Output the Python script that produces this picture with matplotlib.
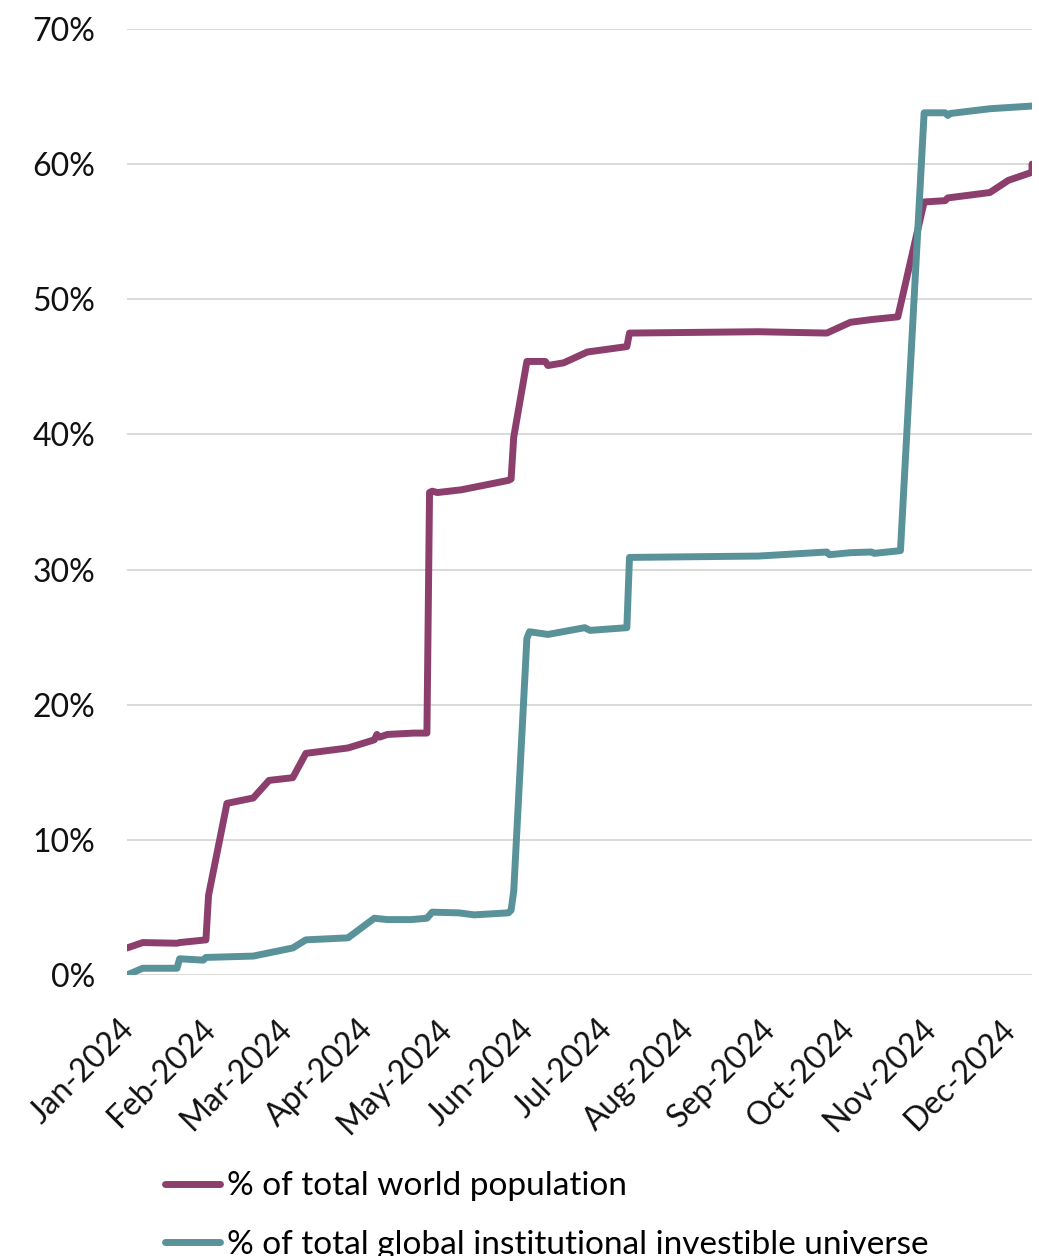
import numpy as np
import pandas as pd
import matplotlib
matplotlib.use("Agg")
import matplotlib.pyplot as plt
import matplotlib.dates as mdates
from matplotlib.ticker import PercentFormatter
from matplotlib.transforms import ScaledTranslation

plt.rcParams['font.family'] = ['Lato', 'DejaVu Sans']

# cumulative share, % of total world population
pop_dates = ['2024-01-01', '2024-01-07', '2024-01-20', '2024-01-21', '2024-01-31',
             '2024-02-01', '2024-02-08', '2024-02-18', '2024-02-24', '2024-03-04',
             '2024-03-09', '2024-03-25', '2024-04-04', '2024-04-05', '2024-04-06',
             '2024-04-09', '2024-04-19', '2024-04-24', '2024-04-25', '2024-04-26',
             '2024-04-28', '2024-05-07', '2024-05-25', '2024-05-26', '2024-05-27',
             '2024-06-01', '2024-06-08', '2024-06-09', '2024-06-15', '2024-06-24',
             '2024-07-09', '2024-07-10', '2024-08-28', '2024-09-23', '2024-10-02',
             '2024-10-10', '2024-10-20', '2024-10-30', '2024-11-07', '2024-11-08',
             '2024-11-24', '2024-12-01', '2024-12-10', '2024-12-10']
pop_share = [2.0, 2.4, 2.35, 2.4, 2.6,
             5.9, 12.7, 13.1, 14.4, 14.6,
             16.4, 16.8, 17.4, 17.8, 17.6,
             17.8, 17.9, 17.9, 35.7, 35.8,
             35.7, 35.9, 36.6, 36.7, 39.8,
             45.4, 45.4, 45.1, 45.3, 46.1,
             46.5, 47.5, 47.6, 47.5, 48.3,
             48.5, 48.7, 57.2, 57.3, 57.5,
             57.9, 58.8, 59.4, 60.0]

# cumulative share, % of total global institutional investible universe
inv_dates = ['2024-01-01', '2024-01-07', '2024-01-20', '2024-01-21', '2024-01-30',
             '2024-01-31', '2024-02-18', '2024-03-04', '2024-03-09', '2024-03-25',
             '2024-04-04', '2024-04-09', '2024-04-18', '2024-04-24', '2024-04-26',
             '2024-05-06', '2024-05-12', '2024-05-25', '2024-05-26', '2024-05-27',
             '2024-06-01', '2024-06-02', '2024-06-09', '2024-06-23', '2024-06-25',
             '2024-07-09', '2024-07-10', '2024-08-28', '2024-09-23', '2024-09-24',
             '2024-10-02', '2024-10-10', '2024-10-11', '2024-10-21', '2024-10-30',
             '2024-11-07', '2024-11-08', '2024-11-09', '2024-11-24', '2024-12-10']
inv_share = [0.0, 0.5, 0.5, 1.2, 1.1,
             1.3, 1.4, 2.0, 2.6, 2.75,
             4.2, 4.1, 4.1, 4.2, 4.65,
             4.6, 4.45, 4.6, 4.8, 6.2,
             24.9, 25.4, 25.2, 25.7, 25.5,
             25.7, 30.9, 31.0, 31.3, 31.1,
             31.25, 31.3, 31.2, 31.4, 63.8,
             63.8, 63.6, 63.75, 64.1, 64.3]

labels = ['% of total world population',
          '% of total global institutional investible universe']
colors = ['#8c3e6c', '#5a929a']

W, H = 1039, 1256
fig = plt.figure(figsize=(W / 100, H / 100), dpi=100)
ax = fig.add_axes([127 / W, 1 - 975 / H, (1032 - 127) / W, (975 - 29) / H])

for d, v, c, lab in [(pop_dates, pop_share, colors[0], labels[0]),
                     (inv_dates, inv_share, colors[1], labels[1])]:
    ax.plot(pd.to_datetime(d), v, color=c, lw=5.0, label=lab,
            solid_joinstyle='round', solid_capstyle='round')

ax.set_ylim(0, 70)
ax.set_yticks(np.arange(0, 71, 10))
ax.yaxis.set_major_formatter(PercentFormatter(decimals=0))
ax.set_xlim(pd.Timestamp('2024-01-01'), pd.Timestamp('2024-12-10'))
ax.xaxis.set_major_locator(mdates.MonthLocator())
ax.xaxis.set_major_formatter(mdates.DateFormatter('%b-%Y'))

ax.grid(axis='y', color='#d9d9d9', lw=1.4)
ax.set_axisbelow(True)
for s in ax.spines.values():
    s.set_visible(False)

ax.tick_params(axis='y', length=0, pad=23, labelsize=23, labelcolor='#111111')
ax.tick_params(axis='x', length=0, pad=28, labelsize=23, labelcolor='#111111')
shift = ScaledTranslation(-6 / 72, 0, fig.dpi_scale_trans)
for t in ax.get_xticklabels():
    t.set_rotation(45)
    t.set_ha('right')
    t.set_va('top')
    t.set_rotation_mode('anchor')
    t.set_transform(t.get_transform() + shift)

fig.legend(loc='upper left', bbox_to_anchor=(152 / W, 1 - 1158 / H),
           frameon=False, fontsize=24, handlelength=1.65, handletextpad=0.2,
           labelspacing=0.85, borderaxespad=0)

fig.savefig('out.png', dpi=100, facecolor='white')
